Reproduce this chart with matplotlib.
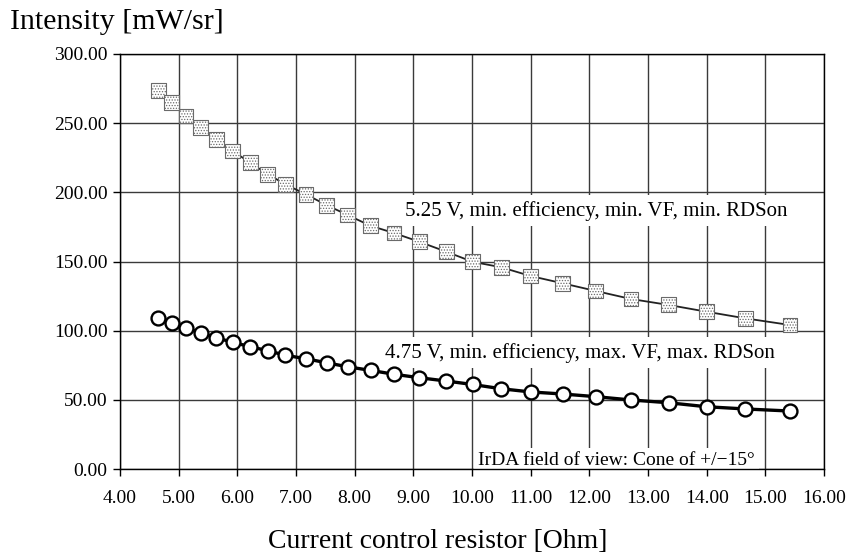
import matplotlib
matplotlib.use("Agg")
import matplotlib.pyplot as plt
import numpy as np

plt.rcParams['font.family'] = ['Liberation Serif', 'DejaVu Serif']
plt.rcParams['hatch.linewidth'] = 0.6

# Resistor values [Ohm]
resistor = [4.65, 4.88, 5.125, 5.375, 5.64, 5.92, 6.22, 6.52, 6.82, 7.17, 7.52,
            7.88, 8.27, 8.67, 9.10, 9.56, 10.01, 10.50, 11.00, 11.55, 12.11,
            12.71, 13.35, 14.00, 14.66, 15.42]

# 5.25 V, min efficiency, min VF, min RDSon
intensity_max = [273.5, 264.8, 255.2, 246.7, 238.3, 229.9, 221.4, 213.0, 205.8,
                 198.5, 190.8, 183.6, 175.8, 170.6, 164.3, 157.1, 149.8, 145.8,
                 139.5, 134.2, 128.7, 122.9, 118.6, 113.7, 108.9, 104.1]

# 4.75 V, min efficiency, max VF, max RDSon
intensity_min = [108.9, 105.3, 101.7, 98.5, 94.9, 91.6, 88.4, 85.5, 82.2, 79.7,
                 76.8, 73.9, 71.3, 68.5, 66.0, 63.6, 61.1, 58.0, 55.7, 54.2,
                 52.3, 49.9, 47.9, 45.0, 43.4, 41.9]

x_ticks = [4, 5, 6, 7, 8, 9, 10, 11, 12, 13, 14, 15, 16]
y_ticks = [0, 50, 100, 150, 200, 250, 300]

label_high = "5.25 V, min. efficiency, min. VF, min. RDSon"
label_low = "4.75 V, min. efficiency, max. VF, max. RDSon"
label_fov = "IrDA field of view: Cone of +/\u221215\u00b0"

fig = plt.figure(figsize=(8.51, 5.60), dpi=100)
ax = fig.add_axes([120/851, 1-469/560, (824-120)/851, (469-54)/560])

ax.set_xlim(4, 16)
ax.set_ylim(0, 300)
ax.set_xticks(x_ticks)
ax.set_yticks(y_ticks)
ax.set_xticklabels([f"{v:.2f}" for v in x_ticks])
ax.set_yticklabels([f"{v:.2f}" for v in y_ticks])
ax.grid(True, color='#3a3a3a', linewidth=1.0)
ax.set_axisbelow(True)
for s in ax.spines.values():
    s.set_color('black')
    s.set_linewidth(1.0)
ax.tick_params(axis='both', direction='out', length=5, width=1, labelsize=14, colors='black')
ax.tick_params(axis='x', pad=10)
ax.tick_params(axis='y', pad=4)

# upper series: thin line + dotted squares
ax.plot(resistor, intensity_max, color='#222222', linewidth=1.3, zorder=3)
ax.scatter(resistor, intensity_max, marker='s', s=115, facecolor='white',
           edgecolor='#6a6a6a', hatch='......', linewidth=0.8, zorder=4)

# lower series: thick line + open circles
ax.plot(resistor, intensity_min, color='black', linewidth=2.4, zorder=3,
        marker='o', markersize=10, markerfacecolor='white',
        markeredgecolor='black', markeredgewidth=1.7)

box = dict(facecolor='white', edgecolor='none', pad=4)
ax.text(8.86, 183, label_high, fontsize=15, va='baseline', ha='left',
        zorder=2, bbox=box)
ax.text(8.52, 80.6, label_low, fontsize=15, va='baseline', ha='left',
        zorder=2, bbox=box)
ax.text(10.10, 2.9, label_fov, fontsize=14, va='baseline', ha='left',
        zorder=2, clip_on=True, bbox=dict(facecolor='white', edgecolor='none', pad=3))

fig.text(10/851, 1-22/560, "Intensity [mW/sr]", fontsize=21.5, ha='left', va='center')
fig.text(438/851, 1-541/560, "Current control resistor [Ohm]", fontsize=20,
         ha='center', va='center')

fig.savefig("out.png", dpi=100)
